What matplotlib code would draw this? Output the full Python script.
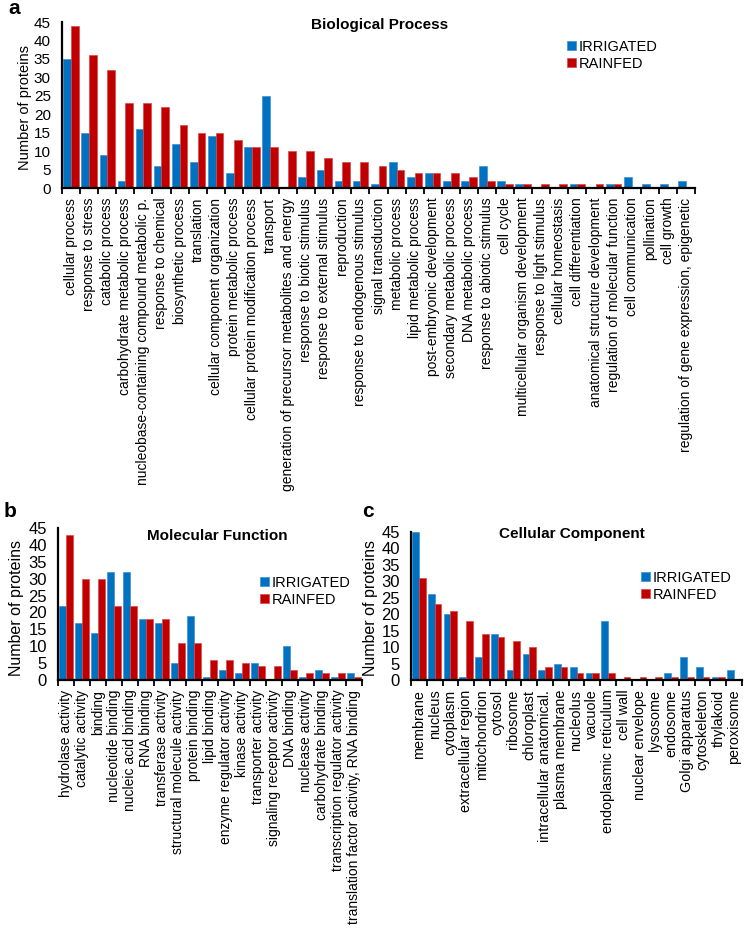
import matplotlib
matplotlib.use("Agg")
import matplotlib.pyplot as plt
import numpy as np

plt.rcParams['font.family'] = ['Liberation Sans', 'DejaVu Sans']

W, H = 749, 931

# ---------------- data ----------------
bp_cats = ["cellular process", "response to stress", "catabolic process",
           "carbohydrate metabolic process", "nucleobase-containing compound metabolic p.",
           "response to chemical", "biosynthetic process", "translation",
           "cellular component organization", "protein metabolic process",
           "cellular protein modification process", "transport",
           "generation of precursor metabolites and energy", "response to biotic stimulus",
           "response to external stimulus", "reproduction", "response to endogenous stimulus",
           "signal transduction", "metabolic process", "lipid metabolic process",
           "post-embryonic development", "secondary metabolic process", "DNA metabolic process",
           "response to abiotic stimulus", "cell cycle", "multicellular organism development",
           "response to light stimulus", "cellular homeostasis", "cell differentiation",
           "anatomical structure development", "regulation of molecular function",
           "cell communication", "pollination", "cell growth",
           "regulation of gene expression, epigenetic"]
bp_irrigated = [35, 15, 9, 2, 16, 6, 12, 7, 14, 4, 11, 25, 0, 3, 5, 2, 2, 1, 7, 3,
                4, 2, 2, 6, 2, 1, 0, 0, 1, 0, 1, 3, 1, 1, 2]
bp_rainfed = [44, 36, 32, 23, 23, 22, 17, 15, 15, 13, 11, 11, 10, 10, 8, 7, 7, 6, 5, 4,
              4, 4, 3, 2, 1, 1, 1, 1, 1, 1, 1, 0, 0, 0, 0]

mf_cats = ["hydrolase activity", "catalytic activity", "binding", "nucleotide binding",
           "nucleic acid binding", "RNA binding", "transferase activity",
           "structural molecule activity", "protein binding", "lipid binding",
           "enzyme regulator activity", "kinase activity", "transporter activity",
           "signaling receptor activity", "DNA binding", "nuclease activity",
           "carbohydrate binding", "transcription regulator activity",
           "translation factor activity, RNA binding"]
mf_irrigated = [22, 17, 14, 32, 32, 18, 17, 5, 19, 1, 3, 2, 5, 0, 10, 1, 3, 1, 2]
mf_rainfed = [43, 30, 30, 22, 22, 18, 18, 11, 11, 6, 6, 5, 4, 4, 3, 2, 2, 2, 1]

cc_cats = ["membrane", "nucleus", "cytoplasm", "extracellular region", "mitochondrion",
           "cytosol", "ribosome", "chloroplast", "intracellular anatomical.",
           "plasma membrane", "nucleolus", "vacuole", "endoplasmic reticulum", "cell wall",
           "nuclear envelope", "lysosome", "endosome", "Golgi apparatus", "cytoskeleton",
           "thylakoid", "peroxisome"]
cc_irrigated = [45, 26, 20, 1, 7, 14, 3, 8, 3, 5, 4, 2, 18, 0, 0, 0, 2, 7, 4, 1, 3]
cc_rainfed = [31, 23, 21, 18, 14, 13, 12, 10, 4, 4, 2, 2, 2, 1, 1, 1, 1, 1, 1, 1, 0]

series_names = ["IRRIGATED", "RAINFED"]
BLUE = "#0070C0"
RED = "#C00000"

fig = plt.figure(figsize=(W / 100, H / 100), dpi=100)


def px_rect(l, t, r, b):
    return [l / W, 1 - b / H, (r - l) / W, (b - t) / H]


def draw(ax, cats, irr, rain, ytick_size, xlab_size, title, title_xy, legend_xy, legend_size):
    n = len(cats)
    x = np.arange(n)
    bw = 0.425
    ax.bar(x - bw / 2, irr, width=bw, color=BLUE, edgecolor="#3a8fd3", linewidth=0.5,
           label=series_names[0], zorder=2)
    ax.bar(x + bw / 2, rain, width=bw, color=RED, edgecolor="#d84a4a", linewidth=0.5,
           label=series_names[1], zorder=2)
    ax.set_xlim(-0.5, n - 0.5)
    ax.set_ylim(0, 45)
    ax.set_yticks(np.arange(0, 46, 5))
    ax.set_xticks(x)
    ax.set_xticklabels(cats, rotation=90, fontsize=xlab_size)
    ax.set_xticks(np.arange(n + 1) - 0.5, minor=True)
    ax.tick_params(axis='x', which='major', length=0, pad=7)
    ax.tick_params(axis='x', which='minor', length=4, width=1.3, direction='out')
    ax.tick_params(axis='y', length=0, pad=8, labelsize=ytick_size)
    for s in ['top', 'right']:
        ax.spines[s].set_visible(False)
    for s in ['left', 'bottom']:
        ax.spines[s].set_linewidth(1.6)
        ax.spines[s].set_zorder(3)
    fig.text(title_xy[0] / W, 1 - title_xy[1] / H, title, ha='center', va='center',
             fontsize=11, fontweight='bold')
    ax.legend(loc='upper left', bbox_to_anchor=(legend_xy[0] / W, 1 - legend_xy[1] / H),
              bbox_transform=fig.transFigure, frameon=False, fontsize=legend_size,
              handlelength=0.6, handleheight=0.6, handletextpad=0.2, borderpad=0,
              borderaxespad=0, labelspacing=0.2)


ax_a = fig.add_axes(px_rect(62, 22, 695, 188))
draw(ax_a, bp_cats, bp_irrigated, bp_rainfed, 11, 10, "Biological Process", (380, 25),
     (567, 40), 10.5)
fig.text(25 / W, 1 - 107 / H, "Number of proteins", rotation=90, ha='center', va='center',
         fontsize=10.5)

ax_b = fig.add_axes(px_rect(58, 528, 362, 680))
draw(ax_b, mf_cats, mf_irrigated, mf_rainfed, 12, 10, "Molecular Function", (217, 536),
     (260, 576), 10.5)
fig.text(17 / W, 1 - 608 / H, "Number of proteins", rotation=90, ha='center', va='center',
         fontsize=11.5)

ax_c = fig.add_axes(px_rect(411, 532, 742, 680))
draw(ax_c, cc_cats, cc_irrigated, cc_rainfed, 12, 10.4, "Cellular Component", (572, 534),
     (641, 571), 10.5)
fig.text(370 / W, 1 - 608 / H, "Number of proteins", rotation=90, ha='center', va='center',
         fontsize=11.5)

fig.text(8 / W, 1 - 14 / H, "a", fontsize=15, fontweight='bold', va='baseline')
fig.text(4 / W, 1 - 517 / H, "b", fontsize=15, fontweight='bold', va='baseline')
fig.text(362 / W, 1 - 517 / H, "c", fontsize=15, fontweight='bold', va='baseline')

fig.savefig("out.png", dpi=100)
